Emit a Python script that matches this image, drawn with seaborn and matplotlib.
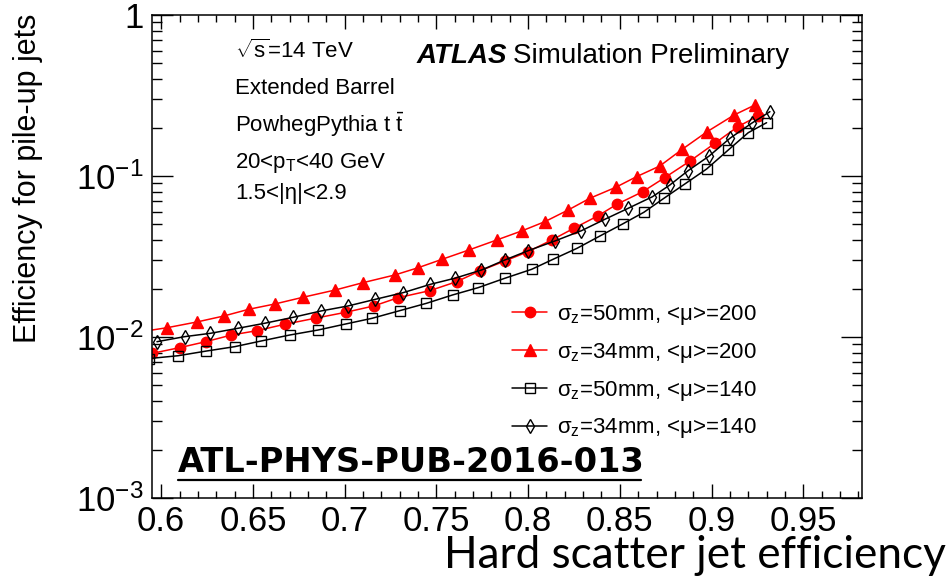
import numpy as np
import pandas as pd
import matplotlib
matplotlib.use("Agg")
import matplotlib.pyplot as plt
import seaborn as sns
from matplotlib.lines import Line2D
from matplotlib.ticker import FixedLocator, MultipleLocator, LogLocator, NullFormatter

# ---------------- data ----------------
eff_hs_s50_mu200 = [0.5952, 0.6101, 0.6243, 0.6383, 0.6521, 0.6673, 0.6846, 0.7006, 0.7159, 0.7291,
                    0.7464, 0.7610, 0.7740, 0.7873, 0.8000, 0.8128, 0.8249, 0.8380, 0.8484, 0.8624,
                    0.8744, 0.8883, 0.9018, 0.9143, 0.9254]
eff_pu_s50_mu200 = [0.00792, 0.00859, 0.00935, 0.01029, 0.01094, 0.01199, 0.01312, 0.01424, 0.01559, 0.01754,
                    0.01940, 0.02205, 0.02582, 0.02965, 0.03388, 0.04000, 0.04732, 0.05650, 0.06675, 0.07983,
                    0.09755, 0.1240, 0.1596, 0.2025, 0.2360]

eff_hs_s34_mu200 = [0.588, 0.6032, 0.6195, 0.6341, 0.6477, 0.6619, 0.6773, 0.6950, 0.7100, 0.7273,
                    0.7400, 0.7531, 0.7677, 0.7828, 0.7969, 0.8091, 0.8218, 0.8336, 0.8478, 0.8591,
                    0.8718, 0.8840, 0.8976, 0.9123, 0.9236]
eff_pu_s34_mu200 = [0.01074, 0.01142, 0.01240, 0.01350, 0.01486, 0.01603, 0.01765, 0.01960, 0.02175, 0.02427,
                    0.02692, 0.03038, 0.03470, 0.04000, 0.04575, 0.05202, 0.06146, 0.07265, 0.08508, 0.09903,
                    0.1154, 0.1465, 0.1885, 0.2393, 0.2760]

eff_hs_s50_mu140 = [0.5935, 0.6092, 0.6246, 0.6401, 0.6546, 0.6701, 0.6855, 0.7006, 0.7149, 0.7300,
                    0.7446, 0.7588, 0.7727, 0.7873, 0.8019, 0.8136, 0.8267, 0.8391, 0.8515, 0.8631,
                    0.8740, 0.8854, 0.8973, 0.9091, 0.9200, 0.9300]
eff_pu_s50_mu140 = [0.00735, 0.00765, 0.00818, 0.00871, 0.00945, 0.01029, 0.01105, 0.01205, 0.01306, 0.01457,
                    0.01619, 0.01824, 0.02024, 0.02316, 0.02632, 0.03038, 0.03557, 0.04237, 0.05035, 0.05952,
                    0.07265, 0.08918, 0.1105, 0.1450, 0.1858, 0.2143]

eff_hs_s34_mu140 = [0.5977, 0.6128, 0.6268, 0.6419, 0.6564, 0.6719, 0.6870, 0.7019, 0.7168, 0.7318,
                    0.7468, 0.7600, 0.7746, 0.7873, 0.8000, 0.8146, 0.8291, 0.8418, 0.8545, 0.8678,
                    0.8773, 0.8872, 0.8987, 0.9100, 0.9218, 0.9318]
eff_pu_s34_mu140 = [0.00935, 0.01005, 0.01054, 0.01133, 0.01217, 0.01325, 0.01450, 0.01559, 0.01715, 0.01884,
                    0.02125, 0.02316, 0.02606, 0.03008, 0.03436, 0.03948, 0.04575, 0.05383, 0.06297, 0.07437,
                    0.08797, 0.1079, 0.1331, 0.1715, 0.2125, 0.2509]

series_labels = [r"σ$_\mathrm{z}$=50mm, <μ>=200",
                 r"σ$_\mathrm{z}$=34mm, <μ>=200",
                 r"σ$_\mathrm{z}$=50mm, <μ>=140",
                 r"σ$_\mathrm{z}$=34mm, <μ>=140"]

x_ticks = [0.6, 0.65, 0.7, 0.75, 0.8, 0.85, 0.9, 0.95]
x_tick_labels = ["0.6", "0.65", "0.7", "0.75", "0.8", "0.85", "0.9", "0.95"]
y_ticks = [1e-3, 1e-2, 1e-1, 1]
y_tick_labels = [r"$10^{-3}$", r"$10^{-2}$", r"$10^{-1}$", "1"]

# ---------------- style ----------------
sns.set_style("ticks")
plt.rcParams['font.family'] = ['Liberation Sans', 'DejaVu Sans']
plt.rcParams['mathtext.fontset'] = 'custom'
plt.rcParams['mathtext.rm'] = 'Liberation Sans'
plt.rcParams['mathtext.it'] = 'Liberation Sans:italic'
plt.rcParams['mathtext.bf'] = 'Liberation Sans:bold'
plt.rcParams['mathtext.sf'] = 'Liberation Sans'
plt.rcParams['mathtext.default'] = 'regular'
plt.rcParams['axes.linewidth'] = 1.1
plt.rcParams['text.color'] = 'black'
plt.rcParams['axes.labelcolor'] = 'black'
plt.rcParams['xtick.color'] = 'black'
plt.rcParams['ytick.color'] = 'black'
plt.rcParams['axes.edgecolor'] = 'black'

W, H = 949, 586
fig = plt.figure(figsize=(W / 100, H / 100), dpi=100)
ax = fig.add_axes([152 / W, 88 / H, 710 / W, 483 / H])

def fx(px):
    return px / W

def fy(py):
    return 1 - py / H

styles = [
    dict(color="red", marker="o", markersize=7.5, markeredgecolor="red", markerfacecolor="red", markeredgewidth=1),
    dict(color="red", marker="^", markersize=8, markeredgecolor="red", markerfacecolor="red", markeredgewidth=1),
    dict(color="black", marker="s", markersize=7.5, markeredgecolor="black", markerfacecolor="none", markeredgewidth=1),
    dict(color="black", marker="d", markersize=7.5, markeredgecolor="black", markerfacecolor="none", markeredgewidth=1),
]
xs = [eff_hs_s50_mu200, eff_hs_s34_mu200, eff_hs_s50_mu140, eff_hs_s34_mu140]
ys = [eff_pu_s50_mu200, eff_pu_s34_mu200, eff_pu_s50_mu140, eff_pu_s34_mu140]

for x, y, st, lab in zip(xs, ys, styles, series_labels):
    sns.lineplot(x=np.array(x), y=np.array(y), ax=ax, sort=False, estimator=None,
                 linewidth=1.1, label=lab, **st)

ax.set_yscale("log")
ax.set_xlim(0.595, 0.982)
ax.set_ylim(1e-3, 1)

ax.xaxis.set_major_locator(FixedLocator(x_ticks))
ax.set_xticklabels(x_tick_labels)
ax.xaxis.set_minor_locator(MultipleLocator(0.01))
ax.yaxis.set_major_locator(FixedLocator(y_ticks))
ax.set_yticklabels(y_tick_labels)
ax.yaxis.set_minor_locator(LogLocator(base=10, subs=np.arange(2, 10)))
ax.yaxis.set_minor_formatter(NullFormatter())

ax.tick_params(which="both", direction="in", top=True, right=True, colors="black")
ax.tick_params(axis="x", which="major", length=10, width=1, labelsize=25, pad=5)
ax.tick_params(axis="x", which="minor", length=5, width=1)
ax.tick_params(axis="y", which="major", length=15, width=1, labelsize=25, pad=6)
ax.tick_params(axis="y", which="minor", length=7.5, width=1)
for sp in ax.spines.values():
    sp.set_visible(True)
    sp.set_color("black")
ax.set_xlabel("")
ax.set_ylabel("")

# legend
handles, labels = ax.get_legend_handles_labels()
ax.legend(handles, labels, loc="upper left", bbox_to_anchor=(fx(512), fy(303)),
          bbox_transform=fig.transFigure, frameon=False, fontsize=16,
          handlelength=1.58, handletextpad=0.45, labelspacing=0.62,
          borderpad=0, borderaxespad=0, numpoints=1, labelcolor="black")

# texts
fig.text(fx(28), fy(14), "Efficiency for pile-up jets", rotation=90, fontsize=22,
         ha="center", va="top")
fig.text(fx(946), fy(568), "Hard scatter jet efficiency", family=["Lato", "DejaVu Sans"],
         fontsize=31.8, ha="right", va="baseline")

fig.text(fx(235), fy(58), r"$\sqrt{s}$=14 TeV", fontsize=16, va="baseline")
fig.text(fx(235), fy(94), "Extended Barrel", fontsize=16, va="baseline")
fig.text(fx(235), fy(132), r"PowhegPythia t $\bar{\mathrm{t}}$", fontsize=16, va="baseline")
fig.text(fx(235), fy(168), r"20<p$_\mathrm{T}$<40 GeV", fontsize=16, va="baseline")
fig.text(fx(235), fy(199), "1.5<|η|<2.9", fontsize=16, va="baseline")

fig.text(fx(417), fy(63), "ATLAS", fontsize=20, fontweight="bold", fontstyle="italic", va="baseline")
fig.text(fx(513), fy(63), "Simulation Preliminary", fontsize=20, va="baseline")

fig.text(fx(178), fy(472), "ATL-PHYS-PUB-2016-013", family=["DejaVu Sans"], fontsize=24.2,
         fontweight="bold", va="baseline")
fig.add_artist(Line2D([fx(178), fx(641)], [fy(479.5), fy(479.5)], transform=fig.transFigure,
                      color="black", lw=1.6))

fig.savefig("out.png", dpi=100)
